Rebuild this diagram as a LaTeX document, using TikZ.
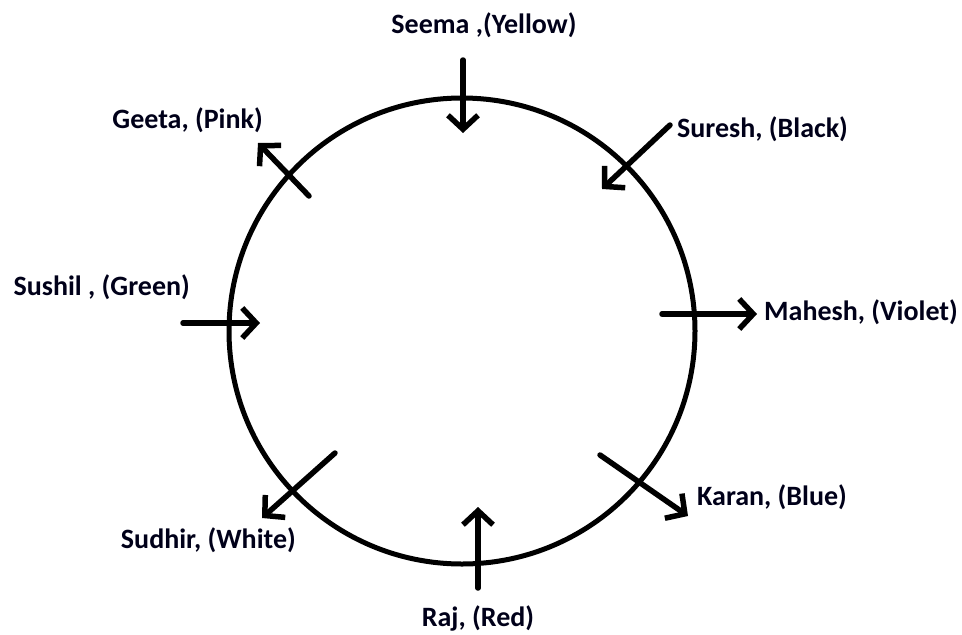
\documentclass[tikz,border=0pt]{standalone}
\usepackage{fontspec}
\setmainfont{Carlito}
\usetikzlibrary{arrows.meta}
\begin{document}
\begin{tikzpicture}[x=1pt,y=-1pt,
  lbl/.style={font=\bfseries\fontsize{28}{32}\selectfont, text=black!90!blue, inner sep=0pt},
  arr/.style={line width=5.5pt, line cap=round, -{Straight Barb[length=14pt,width=30pt,line width=5.5pt]}},
  ring/.style={line width=5pt}]
\useasboundingbox (0,0) rectangle (962,635);
\node[ring, draw, circle, minimum size=466pt, inner sep=0pt] (c) at (462,331) {};
% labels
\node[lbl] (seema) at (484,25) {Seema ,(Yellow)};
\node[lbl, anchor=west] (suresh) at (677,129) {Suresh, (Black)};
\node[lbl, anchor=west] (mahesh) at (764,312) {Mahesh, (Violet)};
\node[lbl, anchor=west] (karan) at (697,497) {Karan, (Blue)};
\node[lbl] (raj) at (478,618) {Raj, (Red)};
\node[lbl, anchor=east] (sudhir) at (296,540) {Sudhir, (White)};
\node[lbl, anchor=east] (sushil) at (190,287) {Sushil , (Green)};
\node[lbl, anchor=east] (geeta) at (263,120) {Geeta, (Pink)};
% arrow end points
\coordinate (s1) at (463,60);  \coordinate (s2) at (463,133);
\coordinate (r1) at (670,125); \coordinate (r2) at (602,189);
\coordinate (m1) at (662,314); \coordinate (m2) at (757,314);
\coordinate (k1) at (600,455); \coordinate (k2) at (688,516);
\coordinate (j1) at (478,588); \coordinate (j2) at (478,507);
\coordinate (d1) at (335,453); \coordinate (d2) at (262,518);
\coordinate (u1) at (183,323); \coordinate (u2) at (260,323);
\coordinate (g1) at (309,196); \coordinate (g2) at (258,143);
\draw[arr] (s1) -- (s2);
\draw[arr] (r1) -- (r2);
\draw[arr] (m1) -- (m2);
\draw[arr] (k1) -- (k2);
\draw[arr] (j1) -- (j2);
\draw[arr] (d1) -- (d2);
\draw[arr] (u1) -- (u2);
\draw[arr] (g1) -- (g2);
\end{tikzpicture}
\end{document}
